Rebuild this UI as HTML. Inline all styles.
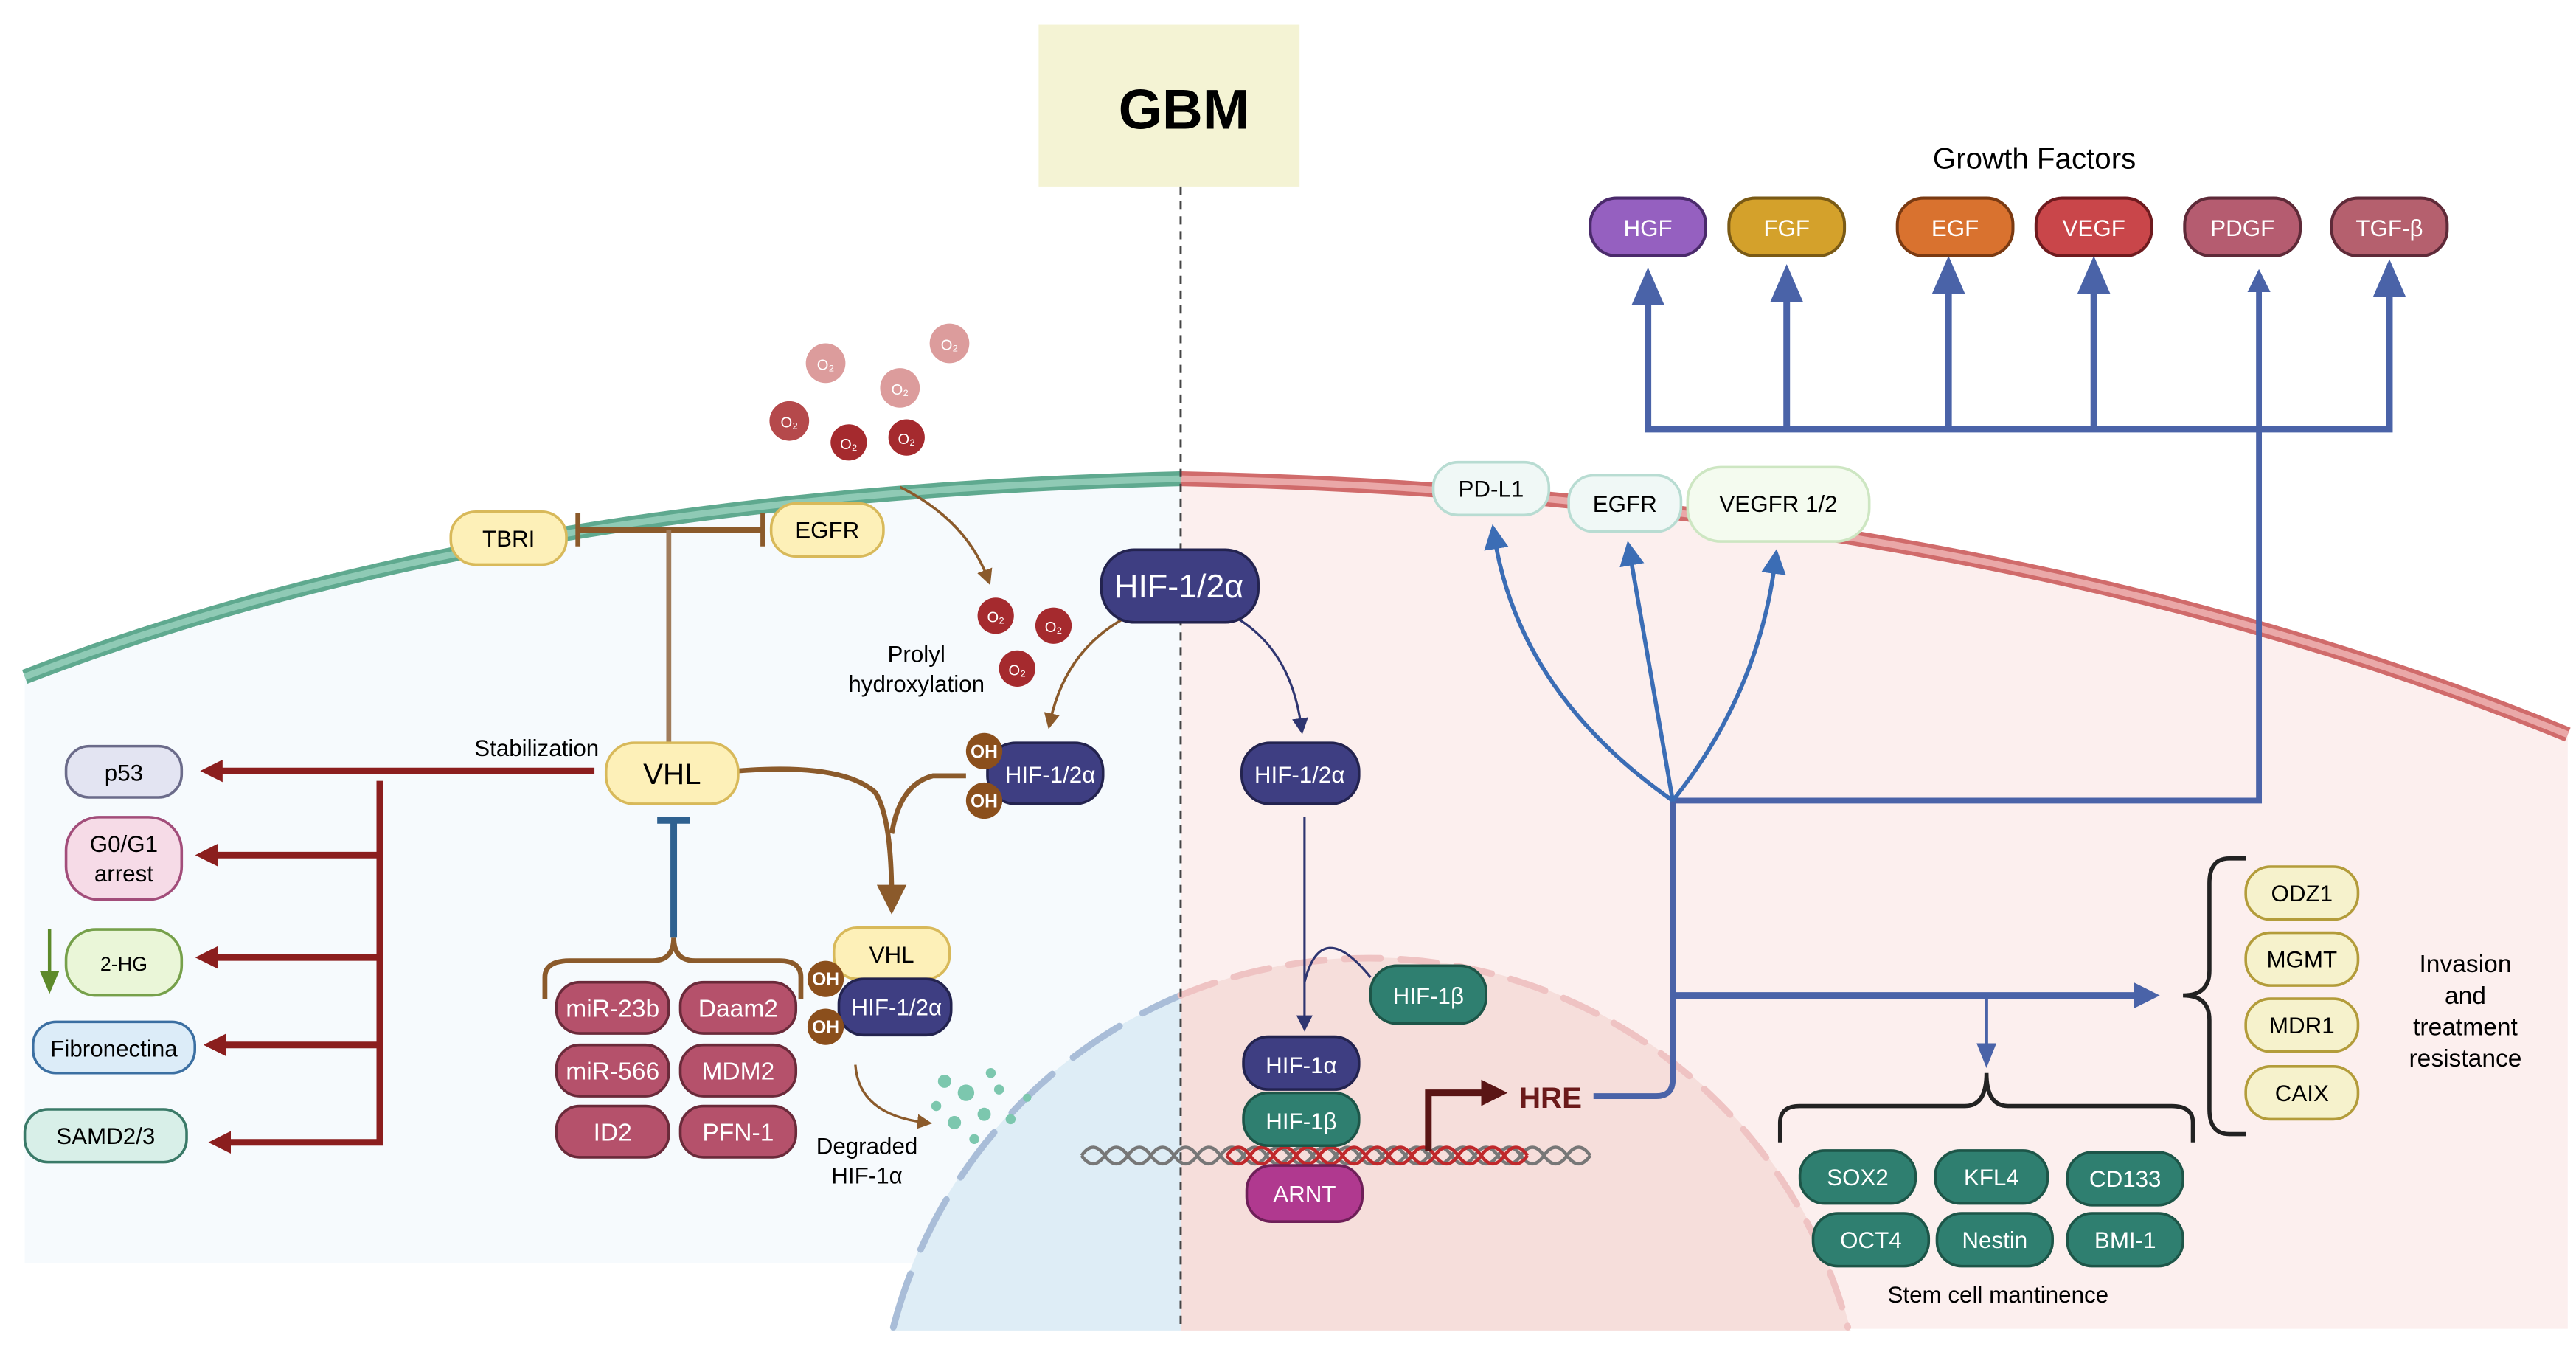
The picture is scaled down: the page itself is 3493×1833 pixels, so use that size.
<!DOCTYPE html>
<html><head><meta charset="utf-8"><style>
html,body{margin:0;padding:0;background:#fff;width:3493px;height:1833px;overflow:hidden}
svg{display:block;position:absolute;left:0;top:0}
text{font-family:"Liberation Sans",sans-serif}
</style></head><body>
<svg width="3493" height="1833" viewBox="0 0 1560 819" preserveAspectRatio="none" xmlns="http://www.w3.org/2000/svg" overflow="hidden">
<defs>
<marker id="ab" viewBox="0 0 10 10" refX="5" refY="5" markerWidth="4" markerHeight="4" orient="auto"><path d="M0,0L10,5L0,10z" fill="#4a63a8"/></marker>
<marker id="abs" viewBox="0 0 10 10" refX="5" refY="5" markerWidth="6" markerHeight="6" orient="auto"><path d="M0,0L10,5L0,10z" fill="#3b6db5"/></marker>
<marker id="ar" viewBox="0 0 10 10" refX="5" refY="5" markerWidth="3.4" markerHeight="3.4" orient="auto"><path d="M0,0L10,5L0,10z" fill="#8b1e1e"/></marker>
<marker id="abr" viewBox="0 0 10 10" refX="5" refY="5" markerWidth="6" markerHeight="6" orient="auto"><path d="M0,0L10,5L0,10z" fill="#8b5a2b"/></marker>
<marker id="an" viewBox="0 0 10 10" refX="5" refY="5" markerWidth="7" markerHeight="7" orient="auto"><path d="M0,0L10,5L0,10z" fill="#2e3570"/></marker>
<marker id="ahre" viewBox="0 0 10 10" refX="5" refY="5" markerWidth="4" markerHeight="4" orient="auto"><path d="M0,0L10,5L0,10z" fill="#5a1515"/></marker>
</defs>
<path d="M15,410 Q300,300 715,290 L715,765 L15,765 Z" fill="#f6fafd"/>
<path d="M715,290 Q1200,300 1555,445 L1555,805 L715,805 Z" fill="#fcefee"/>
<path d="M539.3,806 A300,300 0 0,1 715,602.9 L715,806 Z" fill="#deedf6"/>
<path d="M715,602.9 A300,300 0 0,1 1120.7,806 L715,806 Z" fill="#f6dedb"/>
<path d="M541,804 A300,300 0 0,1 715,602.9" fill="none" stroke="#a9bdd8" stroke-width="4" stroke-dasharray="34 16" stroke-linecap="round"/>
<path d="M715,602.9 A300,300 0 0,1 1119,804" fill="none" stroke="#efc3c3" stroke-width="4" stroke-dasharray="22 12" stroke-linecap="round"/>
<path d="M15,410 Q300,300 715,290" fill="none" stroke="#5fa98f" stroke-width="9"/>
<path d="M15,410 Q300,300 715,290" fill="none" stroke="#8fcab5" stroke-width="4"/>
<path d="M715,290 Q1200,300 1555,445" fill="none" stroke="#d06b6b" stroke-width="9"/>
<path d="M715,290 Q1200,300 1555,445" fill="none" stroke="#eaa8a8" stroke-width="4"/>
<rect x="629" y="15" width="158" height="98" fill="#f4f3d4"/>
<text x="717" y="78" font-size="34" font-weight="bold" text-anchor="middle">GBM</text>
<line x1="715" y1="113" x2="715" y2="805" stroke="#444" stroke-width="1.3" stroke-dasharray="5 4"/>
<g font-size="9" fill="#fff" text-anchor="middle">
<circle cx="500" cy="220" r="12" fill="#dc9c9c"/><text x="500" y="224">O₂</text>
<circle cx="545" cy="235" r="12" fill="#dc9c9c"/><text x="545" y="239">O₂</text>
<circle cx="575" cy="208" r="12" fill="#dc9c9c"/><text x="575" y="212">O₂</text>
<circle cx="478" cy="255" r="12" fill="#b5494b"/><text x="478" y="259">O₂</text>
<circle cx="514" cy="268" r="11" fill="#a52a2e"/><text x="514" y="272">O₂</text>
<circle cx="549" cy="265" r="11" fill="#a52a2e"/><text x="549" y="269">O₂</text>
<circle cx="603" cy="373" r="11" fill="#a52a2e"/><text x="603" y="377">O₂</text>
<circle cx="638" cy="379" r="11" fill="#a52a2e"/><text x="638" y="383">O₂</text>
<circle cx="616" cy="405" r="11" fill="#a52a2e"/><text x="616" y="409">O₂</text>
</g>
<g stroke="#8b5a2b" fill="none">
<line x1="350" y1="321" x2="462" y2="321" stroke-width="4"/>
<line x1="350" y1="311" x2="350" y2="331" stroke-width="3"/>
<line x1="462" y1="311" x2="462" y2="331" stroke-width="3"/>
<line x1="405" y1="321" x2="405" y2="450" stroke-width="3" stroke="#a07c5c"/>
<path d="M545,295 Q585,315 598,350" stroke-width="1.6" marker-end="url(#abr)"/>
<path d="M680,375 Q645,395 636,437" stroke-width="1.6" marker-end="url(#abr)"/>
<path d="M447,467 Q510,462 530,480 Q540,495 540,545" stroke-width="3" marker-end="url(#abr)"/>
<path d="M585,470 L565,470 Q545,475 540,505" stroke-width="3"/>
<path d="M518,645 Q520,675 560,680" stroke-width="1.5" marker-end="url(#abr)"/>
<path d="M330,605 L330,592 Q330,582 345,582 L395,582 Q408,582 408,568 Q408,582 421,582 L472,582 Q485,582 485,592 L485,605" stroke-width="3"/>
</g>
<line x1="408" y1="497" x2="408" y2="568" stroke="#2f6190" stroke-width="4"/>
<line x1="398" y1="497" x2="418" y2="497" stroke="#2f6190" stroke-width="4"/>
<g stroke="#8b1e1e" stroke-width="4" fill="none">
<line x1="360" y1="467" x2="128" y2="467" marker-end="url(#ar)"/>
<polyline points="230,473 230,692 133,692" marker-end="url(#ar)"/>
<line x1="230" y1="518" x2="125" y2="518" marker-end="url(#ar)"/>
<line x1="230" y1="580" x2="125" y2="580" marker-end="url(#ar)"/>
<line x1="230" y1="633" x2="130" y2="633" marker-end="url(#ar)"/>
</g>
<line x1="30" y1="563" x2="30" y2="592" stroke="#5d8a2a" stroke-width="2"/>
<path d="M24,588 L36,588 L30,602z" fill="#5d8a2a"/>
<g stroke="#2e3570" stroke-width="1.4" fill="none">
<path d="M750,375 Q782,395 788,440" marker-end="url(#an)"/>
<line x1="790" y1="495" x2="790" y2="620" marker-end="url(#an)"/>
<path d="M790,595 Q800,555 830,592"/>
</g>
<g fill="none" stroke-width="2">
<path d="M655,700 q7,-10 14,0 t14,0 t14,0 t14,0 t14,0 t14,0 t14,0 t14,0 t14,0 t14,0 t14,0 t14,0 t14,0 t14,0 t14,0 t14,0 t14,0 t14,0 t14,0 t14,0 t14,0 t14,0" stroke="#777"/>
<path d="M655,700 q7,10 14,0 t14,0 t14,0 t14,0 t14,0 t14,0 t14,0 t14,0 t14,0 t14,0 t14,0 t14,0 t14,0 t14,0 t14,0 t14,0 t14,0 t14,0 t14,0 t14,0 t14,0 t14,0" stroke="#777"/>
<path d="M743,700 q7,-10 14,0 t14,0 t14,0 t14,0 t14,0 t14,0 t14,0 t14,0 t14,0 t14,0 t14,0 t14,0 t14,0" stroke="#c0282b"/>
<path d="M743,700 q7,10 14,0 t14,0 t14,0 t14,0 t14,0 t14,0 t14,0 t14,0 t14,0 t14,0 t14,0 t14,0 t14,0" stroke="#c0282b"/>
</g>
<polyline points="865,697 865,662 905,662" fill="none" stroke="#5a1515" stroke-width="4" marker-end="url(#ahre)"/>
<text x="920" y="671" font-size="18" font-weight="bold" fill="#6b1a1a">HRE</text>
<g stroke="#4a63a8" fill="none" stroke-width="3.5">
<path d="M965,664 L1003,664 Q1013,664 1013,654 L1013,485"/>
<polyline points="1013,485 1368,485 1368,170" marker-end="url(#ab)"/>
<line x1="1013" y1="603" x2="1300" y2="603" stroke-width="4" marker-end="url(#ab)"/>
<polyline points="998,183 998,260 1447,260 1447,178" stroke-width="4"/>
<line x1="1082" y1="260" x2="1082" y2="180" stroke-width="4"/>
<line x1="1180" y1="260" x2="1180" y2="175" stroke-width="4"/>
<line x1="1268" y1="260" x2="1268" y2="175" stroke-width="4"/>
</g>
<g fill="#4a63a8">
<path d="M988,185 L1008,185 L998,162z"/><path d="M1072,183 L1092,183 L1082,160z"/>
<path d="M1170,178 L1190,178 L1180,155z"/><path d="M1258,178 L1278,178 L1268,155z"/>
<path d="M1437,180 L1457,180 L1447,157z"/>
</g>
<line x1="1203" y1="603" x2="1203" y2="635" stroke="#4a63a8" stroke-width="2"/>
<path d="M1197,632 L1209,632 L1203,647z" fill="#4a63a8"/>
<g stroke="#3b6db5" stroke-width="2.5" fill="none">
<path d="M1013,485 Q920,420 905,325" marker-end="url(#abs)"/>
<path d="M1013,485 L987,335" marker-end="url(#abs)"/>
<path d="M1013,485 Q1065,420 1075,340" marker-end="url(#abs)"/>
</g>
<g stroke="#222" stroke-width="2.5" fill="none">
<path d="M1360,520 L1350,520 Q1338,520 1338,535 L1338,588 Q1338,603 1322,603 Q1338,603 1338,618 L1338,672 Q1338,687 1350,687 L1360,687"/>
<path d="M1078,692 L1078,680 Q1078,670 1090,670 L1190,670 Q1203,670 1203,650 Q1203,670 1216,670 L1315,670 Q1328,670 1328,680 L1328,692"/>
</g>
<g font-size="14" text-anchor="middle" stroke-width="1.6">
<rect x="273" y="310" width="70" height="32" rx="15" fill="#fdf0b8" stroke="#d8b95a"/><text x="308" y="331">TBRI</text>
<rect x="467" y="305" width="68" height="32" rx="15" fill="#fdf0b8" stroke="#d8b95a"/><text x="501" y="326">EGFR</text>
<rect x="667" y="333" width="95" height="44" rx="20" fill="#3e3e82" stroke="#23234f"/><text x="714" y="362" font-size="20" fill="#fff">HIF-1/2α</text>
<text x="555" y="401" font-size="14">Prolyl</text><text x="555" y="419" font-size="14">hydroxylation</text>
<rect x="598" y="450" width="70" height="37" rx="17" fill="#3e3e82" stroke="#23234f"/><text x="636" y="474" fill="#fff">HIF-1/2α</text>
<circle cx="596" cy="455" r="11" fill="#8b4f1c"/><circle cx="596" cy="485" r="11" fill="#8b4f1c"/>
<text x="596" y="459" font-size="11" fill="#fff" font-weight="bold">OH</text><text x="596" y="489" font-size="11" fill="#fff" font-weight="bold">OH</text>
<rect x="752" y="450" width="71" height="37" rx="17" fill="#3e3e82" stroke="#23234f"/><text x="787" y="474" fill="#fff">HIF-1/2α</text>
<text x="325" y="458" font-size="14">Stabilization</text>
<rect x="367" y="450" width="80" height="37" rx="17" fill="#fdf0b8" stroke="#d8b95a"/><text x="407" y="475" font-size="18">VHL</text>
<rect x="40" y="452" width="70" height="31" rx="14" fill="#e3e4f2" stroke="#6b6b8a"/><text x="75" y="473">p53</text>
<rect x="40" y="495" width="70" height="50" rx="20" fill="#f6dbe7" stroke="#a24d7a"/><text x="75" y="516">G0/G1</text><text x="75" y="534">arrest</text>
<rect x="40" y="563" width="70" height="40" rx="18" fill="#eaf6d8" stroke="#76a04a"/><text x="75" y="588" font-size="12">2-HG</text>
<rect x="20" y="619" width="98" height="31" rx="14" fill="#dcecf8" stroke="#3b6fa2"/><text x="69" y="640">Fibronectina</text>
<rect x="15" y="672" width="98" height="32" rx="14" fill="#d8efe8" stroke="#3a7a68"/><text x="64" y="693">SAMD2/3</text>
<rect x="505" y="562" width="70" height="31" rx="14" fill="#fdf0b8" stroke="#d8b95a"/><text x="540" y="583">VHL</text>
<rect x="508" y="593" width="68" height="34" rx="15" fill="#3e3e82" stroke="#23234f"/><text x="543" y="615" fill="#fff">HIF-1/2α</text>
<circle cx="500" cy="593" r="11" fill="#8b4f1c"/><circle cx="500" cy="622" r="11" fill="#8b4f1c"/>
<text x="500" y="597" font-size="11" fill="#fff" font-weight="bold">OH</text><text x="500" y="626" font-size="11" fill="#fff" font-weight="bold">OH</text>
<g fill="#b5516b" stroke="#6a2a3a">
<rect x="337" y="595" width="68" height="31" rx="14"/><rect x="412" y="595" width="70" height="31" rx="14"/>
<rect x="337" y="633" width="68" height="31" rx="14"/><rect x="412" y="633" width="70" height="31" rx="14"/>
<rect x="337" y="670" width="68" height="31" rx="14"/><rect x="412" y="670" width="70" height="31" rx="14"/>
</g>
<g fill="#fff" font-size="15">
<text x="371" y="616">miR-23b</text><text x="447" y="616">Daam2</text>
<text x="371" y="654">miR-566</text><text x="447" y="654">MDM2</text>
<text x="371" y="691">ID2</text><text x="447" y="691">PFN-1</text>
</g>
<text x="525" y="699">Degraded</text><text x="525" y="717">HIF-1α</text>
<g fill="#7cc7ae" stroke="none">
<circle cx="572" cy="655" r="4"/><circle cx="585" cy="662" r="5"/><circle cx="596" cy="675" r="4"/><circle cx="578" cy="680" r="4"/><circle cx="605" cy="660" r="3"/><circle cx="590" cy="690" r="3"/><circle cx="612" cy="678" r="3"/><circle cx="567" cy="670" r="3"/><circle cx="600" cy="650" r="3"/><circle cx="622" cy="665" r="2.5"/>
</g>
<rect x="830" y="585" width="70" height="35" rx="16" fill="#2f7f70" stroke="#1d5548"/><text x="865" y="608" fill="#fff">HIF-1β</text>
<rect x="753" y="628" width="70" height="32" rx="15" fill="#3e3e82" stroke="#23234f"/><text x="788" y="650" fill="#fff">HIF-1α</text>
<rect x="753" y="662" width="70" height="32" rx="15" fill="#2f7f70" stroke="#1d5548"/><text x="788" y="684" fill="#fff">HIF-1β</text>
<rect x="755" y="706" width="70" height="34" rx="15" fill="#b0398f" stroke="#6e1f58"/><text x="790" y="728" fill="#fff">ARNT</text>
<text x="1232" y="102" font-size="18">Growth Factors</text>
<g stroke-width="1.8">
<rect x="963" y="120" width="70" height="35" rx="16" fill="#9560c0" stroke="#4a2a6b"/>
<rect x="1047" y="120" width="70" height="35" rx="16" fill="#d4a12b" stroke="#7a5a15"/>
<rect x="1149" y="120" width="70" height="35" rx="16" fill="#d9722f" stroke="#7a3a12"/>
<rect x="1233" y="120" width="70" height="35" rx="16" fill="#c9464a" stroke="#6e1a1e"/>
<rect x="1323" y="120" width="70" height="35" rx="16" fill="#b55c70" stroke="#5e2a38"/>
<rect x="1412" y="120" width="70" height="35" rx="16" fill="#b5606e" stroke="#5e2a38"/>
</g>
<g fill="#fff">
<text x="998" y="143">HGF</text><text x="1082" y="143">FGF</text><text x="1184" y="143">EGF</text>
<text x="1268" y="143">VEGF</text><text x="1358" y="143">PDGF</text><text x="1447" y="143">TGF-β</text>
</g>
<rect x="868" y="280" width="70" height="32" rx="15" fill="#f0f8f6" stroke="#b8dcd2"/><text x="903" y="301">PD-L1</text>
<rect x="950" y="288" width="68" height="34" rx="15" fill="#f0f8f6" stroke="#b8dcd2"/><text x="984" y="310">EGFR</text>
<rect x="1022" y="283" width="110" height="45" rx="20" fill="#f4fbef" stroke="#cde6c2"/><text x="1077" y="310">VEGFR 1/2</text>
<g fill="#f6f2cc" stroke="#b39c3a">
<rect x="1360" y="525" width="68" height="32" rx="15"/><rect x="1360" y="565" width="68" height="32" rx="15"/>
<rect x="1360" y="605" width="68" height="32" rx="15"/><rect x="1360" y="646" width="68" height="32" rx="15"/>
</g>
<text x="1394" y="546">ODZ1</text><text x="1394" y="586">MGMT</text><text x="1394" y="626">MDR1</text><text x="1394" y="667">CAIX</text>
<text x="1493" y="589" font-size="15">Invasion</text><text x="1493" y="608" font-size="15">and</text>
<text x="1493" y="627" font-size="15">treatment</text><text x="1493" y="646" font-size="15">resistance</text>
<g fill="#2f7f70" stroke="#1d5548">
<rect x="1090" y="697" width="70" height="32" rx="15"/><rect x="1172" y="697" width="68" height="32" rx="15"/><rect x="1252" y="698" width="70" height="32" rx="15"/>
<rect x="1098" y="735" width="70" height="32" rx="15"/><rect x="1173" y="735" width="70" height="32" rx="15"/><rect x="1252" y="735" width="70" height="32" rx="15"/>
</g>
<g fill="#fff">
<text x="1125" y="718">SOX2</text><text x="1206" y="718">KFL4</text><text x="1287" y="719">CD133</text>
<text x="1133" y="756">OCT4</text><text x="1208" y="756">Nestin</text><text x="1287" y="756">BMI-1</text>
</g>
<text x="1210" y="789">Stem  cell mantinence</text>
</g>
</svg>
</body></html>
